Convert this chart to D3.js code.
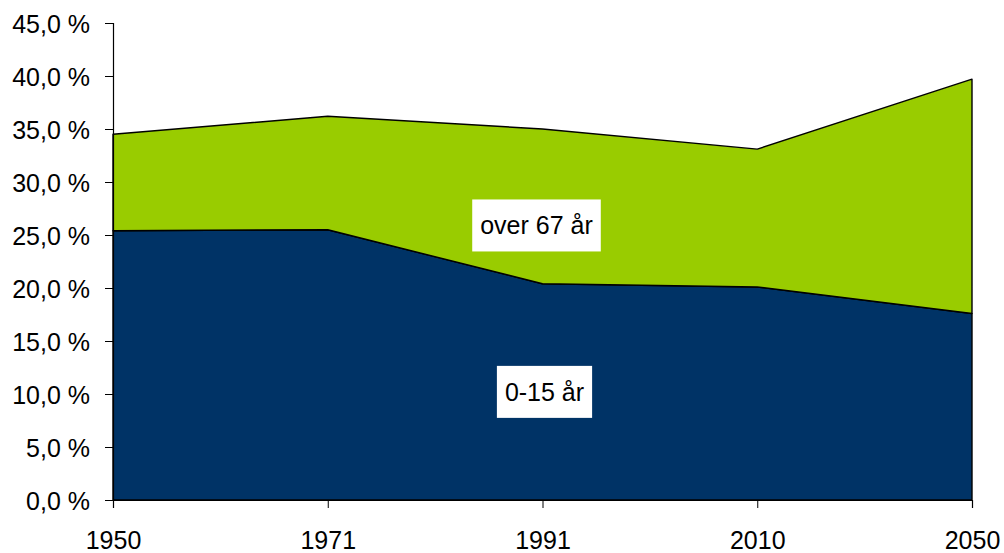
<!DOCTYPE html>
<html>
<head>
<meta charset="utf-8">
<script src="https://cdn.jsdelivr.net/npm/d3@7"></script>
<style>
  body { margin: 0; background: #fff; }
  svg { display: block; font-family: "Liberation Sans", Arial, sans-serif; }
</style>
</head>
<body>
<svg width="1004" height="553"></svg>
<script>
// data
var years = ["1950", "1971", "1991", "2010", "2050"];
var young = [25.4, 25.5, 20.4, 20.1, 17.6];   // 0-15 år
var old   = [9.1, 10.7, 14.6, 13.0, 22.1];    // over 67 år
var yTicks = [0, 5, 10, 15, 20, 25, 30, 35, 40, 45];
var seriesNames = ["0-15 år", "over 67 år"];
var seriesColors = ["#003366", "#99cc00"];
// label anchors, in data units (category, value)
var labelAt = [["1991", 10.2], ["1991", 25.9]];

var svg = d3.select("svg"),
    width = +svg.attr("width"),
    height = +svg.attr("height");

var margin = {top: 23, right: 32, bottom: 53, left: 113};

var x = d3.scalePoint()
    .domain(years)
    .range([margin.left, width - margin.right]);

var y = d3.scaleLinear()
    .domain([0, 45])
    .range([height - margin.bottom, margin.top]);

var rows = years.map(function(yr, i) { return {year: yr, young: young[i], old: old[i]}; });
var stack = d3.stack().keys(["young", "old"]);
var layers = stack(rows);

var area = d3.area()
    .x(function(d) { return x(d.data.year); })
    .y0(function(d) { return y(d[0]); })
    .y1(function(d) { return y(d[1]); });

svg.append("g")
    .selectAll("path")
    .data(layers)
    .enter().append("path")
    .attr("d", area)
    .attr("fill", function(d, i) { return seriesColors[i]; })
    .attr("stroke", "#000")
    .attr("stroke-width", 1.4)
    .attr("stroke-linejoin", "round");

// comma decimal, like the original
var locale = d3.formatLocale({decimal: ",", thousands: " ", grouping: [3], currency: ["", ""]});
var fmt = locale.format(".1f");

var yAxis = svg.append("g")
    .attr("transform", "translate(" + margin.left + ",0)")
    .call(d3.axisLeft(y).tickValues(yTicks).tickSize(8).tickPadding(15)
        .tickFormat(function(d) { return fmt(d) + " %"; }));

var xAxis = svg.append("g")
    .attr("transform", "translate(0," + y(0) + ")")
    .call(d3.axisBottom(x).tickSize(8).tickPadding(23));

[yAxis, xAxis].forEach(function(ax) {
    ax.select(".domain").attr("stroke", "#000").attr("stroke-width", 1.2);
    ax.selectAll(".tick line").attr("stroke", "#000").attr("stroke-width", 1);
    ax.selectAll(".tick text")
        .attr("fill", "#000")
        .style("font-family", "'Liberation Sans', Arial, sans-serif")
        .style("font-size", "25px");
});
yAxis.selectAll(".tick text").attr("dy", "0.36em");
xAxis.selectAll(".tick text").attr("dy", "0.71em");

// series labels in white boxes
var labels = svg.append("g")
    .selectAll("g")
    .data(seriesNames)
    .enter().append("g")
    .attr("transform", function(d, i) {
        var dx = i === 1 ? -6 : 2;
        return "translate(" + (x(labelAt[i][0]) + dx) + "," + y(labelAt[i][1]) + ")";
    });

labels.append("text")
    .attr("text-anchor", "middle")
    .attr("dy", "0.36em")
    .style("font-size", "25px")
    .attr("fill", "#000")
    .text(function(d) { return d; });

labels.each(function() {
    var g = d3.select(this);
    var bb = g.select("text").node().getBBox();
    g.insert("rect", "text")
        .attr("x", bb.x - 8)
        .attr("y", -26)
        .attr("width", bb.width + 16)
        .attr("height", 52)
        .attr("fill", "#fff");
});
</script>
</body>
</html>
